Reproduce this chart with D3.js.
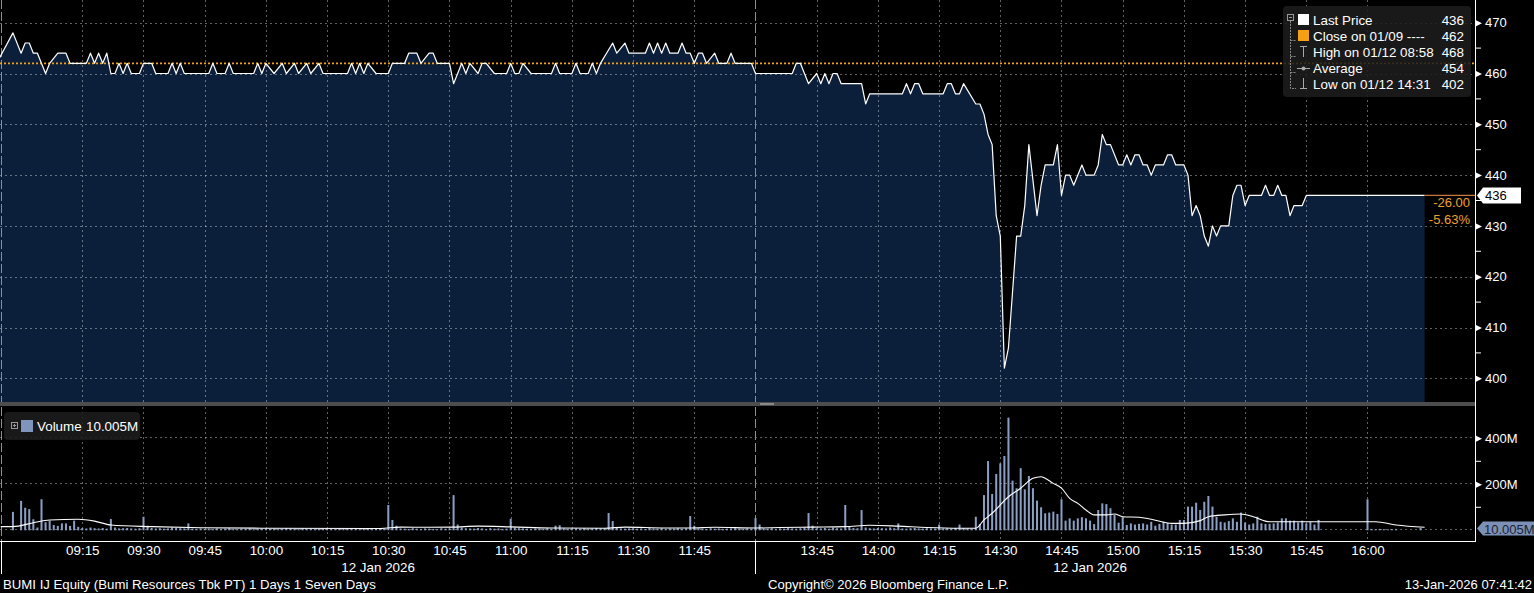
<!DOCTYPE html>
<html><head><meta charset="utf-8">
<script src="https://cdn.jsdelivr.net/npm/d3@7"></script>
<style>html,body{margin:0;padding:0;background:#000;overflow:hidden}svg{display:block}text{font-family:"Liberation Sans",Arial,sans-serif}</style>
</head><body><svg id="c" width="1534" height="593"></svg>
<script>
// ---------------- DATA ----------------
const priceTimes = ["08:54","08:58","09:00","09:01","09:02","09:03","09:04","09:06","09:07","09:09","09:11","09:12","09:16","09:17","09:18","09:19","09:20","09:21","09:22","09:23","09:24","09:25","09:26","09:27","09:29","09:30","09:32","09:33","09:36","09:37","09:38","09:39","09:40","09:46","09:47","09:48","09:50","09:51","09:52","09:57","09:58","09:59","10:00","10:02","10:04","10:05","10:07","10:08","10:10","10:11","10:13","10:14","10:20","10:21","10:22","10:23","10:24","10:25","10:27","10:30","10:31","10:34","10:35","10:37","10:38","10:40","10:41","10:42","10:45","10:46","10:48","10:49","10:50","10:52","10:53","10:54","10:56","10:59","11:00","11:01","11:02","11:03","11:05","11:10","11:11","11:12","11:15","11:16","11:17","11:19","11:20","11:21","11:22","11:25","11:26","11:28","11:29","11:33","11:34","11:35","11:36","11:37","11:38","11:39","11:41","11:42","11:43","11:44","11:45","11:46","11:47","11:48","11:50","11:51","11:53","11:54","11:55","11:59","12:00",
"13:30","13:39","13:40","13:41","13:43","13:45","13:46","13:47","13:48","13:49","13:50","13:51","13:56","13:57","13:58","14:06","14:07","14:08","14:09","14:10","14:11","14:16","14:17","14:18","14:19","14:20","14:21","14:24","14:25","14:26","14:27","14:28","14:29","14:30","14:31","14:32","14:34","14:35","14:36","14:37","14:39","14:40","14:41","14:43","14:44","14:45","14:46","14:47","14:48","14:50","14:51","14:53","14:54","14:55","14:56","14:57","14:59","15:00","15:01","15:02","15:03","15:04","15:05","15:06","15:07","15:08","15:10","15:11","15:12","15:13","15:15","15:16","15:17","15:18","15:19","15:20","15:21","15:22","15:23","15:24","15:26","15:27","15:28","15:29","15:30","15:31","15:34","15:35","15:36","15:37","15:38","15:39","15:40","15:41","15:42","15:44","15:45","16:14"];
const priceValues = [462,468,464,466,466,464,464,460,462,464,464,462,462,464,462,464,462,464,460,460,462,460,462,460,460,462,462,460,460,462,460,462,460,460,462,460,460,462,460,460,462,460,462,460,462,460,462,460,462,460,462,460,460,462,460,462,460,462,460,460,462,462,464,464,462,464,464,462,462,458,462,460,462,460,462,462,460,460,462,460,460,462,460,460,462,460,460,462,460,460,462,460,462,466,464,466,464,464,466,464,466,464,466,464,464,466,464,464,462,464,464,462,464,462,462,464,462,462,460,
460,460,462,462,458,460,458,460,458,460,460,458,458,454,456,456,458,456,458,458,456,456,458,458,456,456,458,454,454,452,448,446,432,428,402,406,428,428,434,446,432,438,442,442,446,436,440,440,438,442,440,440,442,448,446,446,442,442,444,442,444,444,442,442,440,442,442,444,444,442,442,440,432,434,432,428,426,430,428,430,430,436,438,438,434,436,436,438,436,436,438,436,436,432,434,434,436,436];

// volume in millions, one bar per minute; morning from 08:55, afternoon from 13:30
const volMorning = [0,0,0,80,0,
128,98,92,48,12,135,35,42,23,19,30,30,19,42,15,
10,8,12,9,8,10,7,49,12,8,9,10,8,7,9,
59,20,10,8,9,7,8,12,10,9,8,30,7,6,8,
6,7,5,8,6,7,9,6,5,7,6,8,5,6,7,
8,6,7,5,6,9,7,6,5,8,6,7,5,6,8,
7,6,5,8,6,7,9,6,5,7,6,5,8,6,7,
110,45,20,8,7,6,9,7,6,8,7,6,5,9,7,
8,153,25,12,9,8,7,10,8,6,9,7,8,6,7,
50,12,9,8,7,6,8,7,6,9,7,20,22,8,6,
7,8,6,9,7,8,10,8,9,75,40,10,8,7,8,
9,7,8,6,10,8,7,9,6,8,7,9,6,8,62,
20,8,7,6,9,7,8,6,7,8,9,7,6,8,7,6];
const volAfternoon = [
53,25,8,7,9,6,8,7,10,8,7,9,12,75,20,
9,8,10,7,12,9,8,110,15,10,9,88,12,9,8,
10,9,8,12,9,30,8,7,9,10,8,7,9,8,7,
25,8,9,7,10,25,10,8,6,59,27,153,301,158,245,
291,323,490,216,183,270,178,236,183,129,100,74,77,81,71,
135,42,52,42,52,57,52,42,27,88,117,114,96,67,33,
57,23,30,25,28,30,25,37,20,28,37,32,25,25,45,
45,103,103,120,88,124,149,103,59,37,34,40,52,37,77,
34,25,30,59,30,28,28,30,34,52,52,42,42,34,42,
30,37,25,45,0,0,0,0,0,0,0,0,0,0,0,
135,6,5,6,5,4,5,6,0,0,0,0,0,10];

const maTimes = ["08:55","08:58","09:03","09:07","09:14","09:18","09:22","09:32","09:44","10:00","10:28","10:33","10:40","10:46","10:52","11:00","11:10","11:23","11:28","11:38","11:44","11:50","12:00",
"13:30","13:36","13:44","13:52","13:58","14:05","14:12","14:20","14:24","14:26","14:28","14:32","14:35","14:38","14:40","14:41","14:43","14:45","14:47","14:49","14:51","14:53","14:56","14:58","15:00","15:04","15:07","15:12","15:15","15:19","15:21","15:25","15:29","15:32","15:36","15:59","16:02","16:07","16:14"];
const maValues = [16,16,33,45,48,40,23,16,11,9,8,14,13,14,18,15,10,9,14,10,10,13,10,
10,12,14,16,22,18,12,9,9,45,74,146,183,226,233,226,204,183,139,117,88,67,67,71,59,57,48,30,30,42,59,67,71,59,37,37,37,23,13];

const priceTicks = [400,410,420,430,440,450,460,470];
const priceMinor = [405,415,425,435,445,455,465];
const volTicks = [200,400];
const volMinor = [100,300];
const volTickLabels = ["200M","400M"];
const timeTicks = ["09:15","09:30","09:45","10:00","10:15","10:30","10:45","11:00","11:15","11:30","11:45","13:45","14:00","14:15","14:30","14:45","15:00","15:15","15:30","15:45","16:00"];
const sessionBreaks = ["08:55","12:00"];
const closePrev = 462, lastPrice = 436;
const legendRows = [["Last Price","436"],["Close on 01/09 ----","462"],["High on 01/12 08:58","468"],["Average","454"],["Low on 01/12 14:31","402"]];
const dateLabel = "12 Jan 2026";

// ---------------- SCALES ----------------
function ti(t){const p=t.split(':').map(Number);const m=p[0]*60+p[1]+(p[2]||0)/60;return m<=720?m-535:185+(m-810);}
const W=1534,H=593,PR=1475,PB=402,VT=407,VB=541;
const x=d3.scaleLinear().domain([0,361.3]).range([0.7,1474.8]);
const yP=d3.scaleLinear().domain([400,470]).range([378.3,22.7]);
const yV=d3.scaleLinear().domain([0,400]).range([530.3,438.3]);
const sx=d=>Math.round(x(ti(d)))+0.5;

const svg=d3.select('#c');
svg.append('rect').attr('width',W).attr('height',H).attr('fill','#000');
const defs=svg.append('defs');
defs.append('clipPath').attr('id','cp').append('rect').attr('x',0).attr('y',0).attr('width',PR).attr('height',PB);
defs.append('clipPath').attr('id','cv').append('rect').attr('x',0).attr('y',VT).attr('width',PR).attr('height',VB-VT);

const grid='rgba(255,255,255,0.38)';
// ---------------- PRICE PANEL ----------------
const price=priceTimes.map((t,i)=>({t:ti(t),p:priceValues[i]}));
const gP=svg.append('g').attr('clip-path','url(#cp)');
gP.append('path').datum(price).attr('fill','#0b1f3b')
  .attr('d',d3.area().x(d=>x(d.t)).y0(PB).y1(d=>yP(d.p)));
gP.selectAll('.hg').data(priceTicks).join('line').attr('x1',0).attr('x2',PR)
  .attr('y1',d=>Math.round(yP(d))+0.5).attr('y2',d=>Math.round(yP(d))+0.5)
  .attr('stroke',grid).attr('stroke-dasharray','2,3');
gP.selectAll('.vg').data(timeTicks).join('line').attr('y1',0).attr('y2',PB)
  .attr('x1',sx).attr('x2',sx)
  .attr('stroke',grid).attr('stroke-dasharray','2,3');
gP.selectAll('.sb').data(sessionBreaks).join('line').attr('y1',0).attr('y2',PB)
  .attr('x1',sx).attr('x2',sx)
  .attr('stroke','#8a8f98').attr('stroke-dasharray','9,3');
gP.append('line').attr('x1',0).attr('x2',PR).attr('y1',yP(closePrev)).attr('y2',yP(closePrev))
  .attr('stroke','#f0a01c').attr('stroke-width',1.6).attr('stroke-dasharray','2,2');
gP.append('path').datum(price).attr('fill','none').attr('stroke','#fff').attr('stroke-width',1.2)
  .attr('stroke-linejoin','round').attr('d',d3.line().x(d=>x(d.t)).y(d=>yP(d.p)));

// last price extension line & change labels
const lastX=x(ti(priceTimes[priceTimes.length-1]));
svg.append('line').attr('x1',lastX).attr('x2',PR).attr('y1',yP(lastPrice)).attr('y2',yP(lastPrice))
  .attr('stroke','#c8783a').attr('stroke-width',1.2);
svg.append('text').attr('x',1470).attr('y',yP(lastPrice)+12).attr('text-anchor','end')
  .attr('fill','#f0a030').attr('font-size',13).text((lastPrice-closePrev).toFixed(2));
svg.append('text').attr('x',1470).attr('y',yP(lastPrice)+29).attr('text-anchor','end')
  .attr('fill','#f0a030').attr('font-size',13).text(((lastPrice-closePrev)/closePrev*100).toFixed(2)+'%');

// separator bar
svg.append('rect').attr('x',0).attr('y',PB).attr('width',PR).attr('height',4).attr('fill','#4d4d4d');
svg.append('rect').attr('x',760).attr('y',PB+1).attr('width',14).attr('height',2).attr('fill','#888');

// ---------------- VOLUME PANEL ----------------
const vols=[];
volMorning.forEach((v,i)=>vols.push({t:i,v}));
volAfternoon.forEach((v,j)=>vols.push({t:185+j,v}));
const gV=svg.append('g').attr('clip-path','url(#cv)');
gV.selectAll('.hg').data([0].concat(volTicks)).join('line').attr('x1',0).attr('x2',PR)
  .attr('y1',d=>Math.round(yV(d))-0.5).attr('y2',d=>Math.round(yV(d))-0.5)
  .attr('stroke',grid).attr('stroke-dasharray','2,3');
gV.selectAll('.vg').data(timeTicks).join('line').attr('y1',VT).attr('y2',VB)
  .attr('x1',sx).attr('x2',sx)
  .attr('stroke',grid).attr('stroke-dasharray','2,3');
gV.selectAll('.sb').data(sessionBreaks).join('line').attr('y1',VT).attr('y2',VB)
  .attr('x1',sx).attr('x2',sx)
  .attr('stroke','#8a8f98').attr('stroke-dasharray','9,3');
gV.selectAll('.bar').data(vols.filter(d=>d.v>0)).join('rect')
  .attr('x',d=>x(d.t)-1).attr('width',2).attr('y',d=>yV(d.v)).attr('height',d=>yV(0)-yV(d.v))
  .attr('fill','#8b9fc4');
const ma=maTimes.map((t,i)=>({t:ti(t),v:maValues[i]}));
gV.append('path').datum(ma).attr('fill','none').attr('stroke','#fff').attr('stroke-width',1.1)
  .attr('d',d3.line().curve(d3.curveMonotoneX).x(d=>x(d.t)).y(d=>yV(d.v)));

// ---------------- AXES ----------------
svg.append('line').attr('x1',PR+0.5).attr('x2',PR+0.5).attr('y1',0).attr('y2',VB+0.5).attr('stroke','#fff');
svg.append('line').attr('x1',0).attr('x2',PR+1).attr('y1',VB+0.5).attr('y2',VB+0.5).attr('stroke','#fff');
// right price axis
const ayP=svg.append('g').attr('transform',`translate(${PR+1},0)`)
  .call(d3.axisRight(yP).tickValues(priceTicks).tickSize(0).tickPadding(9));
ayP.select('.domain').remove();
ayP.selectAll('text').attr('fill','#fff').attr('font-size',13).attr('font-family','Liberation Sans, Arial');
ayP.selectAll('.tick').append('path').attr('d','M0,-3L6,0L0,3Z').attr('fill','#fff');
svg.selectAll('.pmin').data(priceMinor).join('line').attr('x1',PR+1).attr('x2',PR+6)
  .attr('y1',d=>yP(d)).attr('y2',d=>yP(d)).attr('stroke','#fff');
// right volume axis
const ayV=svg.append('g').attr('transform',`translate(${PR+1},0)`)
  .call(d3.axisRight(yV).tickValues(volTicks).tickFormat((d,i)=>volTickLabels[i]).tickSize(0).tickPadding(9));
ayV.select('.domain').remove();
ayV.selectAll('text').attr('fill','#fff').attr('font-size',13).attr('font-family','Liberation Sans, Arial');
ayV.selectAll('.tick').append('path').attr('d','M0,-3L6,0L0,3Z').attr('fill','#fff');
svg.selectAll('.vmin').data(volMinor).join('line').attr('x1',PR+1).attr('x2',PR+6)
  .attr('y1',d=>yV(d)).attr('y2',d=>yV(d)).attr('stroke','#fff');

// last price tag
const ly=yP(lastPrice);
svg.append('path').attr('d',`M${PR+2},${ly}L${PR+8},${ly-8}L1521,${ly-8}L1521,${ly+8}L${PR+8},${ly+8}Z`).attr('fill','#fff');
svg.append('text').attr('x',1485).attr('y',ly+5).attr('fill','#000').attr('font-size',13).text(String(lastPrice));
// last volume tag
const lastVol = volAfternoon[volAfternoon.length-1];
const vy=yV(lastVol)+0.5;
svg.append('path').attr('d',`M${PR+2},${vy}L${PR+8},${vy-7}L1534,${vy-7}L1534,${vy+7}L${PR+8},${vy+7}Z`).attr('fill','#7d91b6');
svg.append('text').attr('x',1484).attr('y',vy+5).attr('fill','#1a2235').attr('font-size',13).text('10.005M');

// bottom time axis
const ax=svg.append('g').attr('transform',`translate(0,${VB+1})`)
  .call(d3.axisBottom(x).tickValues(timeTicks.map(ti)).tickFormat((d,i)=>timeTicks[i]).tickSize(0).tickPadding(3));
ax.select('.domain').remove();
ax.selectAll('text').attr('fill','#fff').attr('font-size',13.4).attr('font-family','Liberation Sans, Arial');
svg.selectAll('.sbx').data(sessionBreaks).join('line').attr('y1',VB).attr('y2',574)
  .attr('x1',sx).attr('x2',sx).attr('stroke','#fff');
svg.append('text').attr('x',(x(ti("08:55"))+x(ti("12:00")))/2).attr('y',572).attr('text-anchor','middle')
  .attr('fill','#fff').attr('font-size',13.4).text(dateLabel);
svg.append('text').attr('x',(x(ti("13:30"))+lastX)/2).attr('y',572).attr('text-anchor','middle')
  .attr('fill','#fff').attr('font-size',13.4).text(dateLabel);

// footer
svg.append('text').attr('x',3).attr('y',589).attr('fill','#fff').attr('font-size',13.2).text('BUMI IJ Equity (Bumi Resources Tbk PT) 1 Days 1 Seven Days');
svg.append('text').attr('x',768).attr('y',589).attr('fill','#fff').attr('font-size',13.1).text('Copyright\u00A9 2026 Bloomberg Finance L.P.');
svg.append('text').attr('x',1532).attr('y',589).attr('text-anchor','end').attr('fill','#fff').attr('font-size',13).text('13-Jan-2026 07:41:42');

// ---------------- LEGENDS ----------------
const lg=svg.append('g');
lg.append('rect').attr('x',1283).attr('y',6).attr('width',188).attr('height',91).attr('rx',4).attr('fill','rgba(28,28,28,0.88)');
lg.append('rect').attr('x',1287.5).attr('y',14.5).attr('width',6).attr('height',6).attr('fill','none').attr('stroke','#999');
lg.append('line').attr('x1',1289).attr('x2',1292).attr('y1',17.5).attr('y2',17.5).attr('stroke','#999');
lg.append('path').attr('d','M1290.5,21V88.5H1296M1290.5,40.5H1296M1290.5,56.5H1296M1290.5,72.5H1296').attr('fill','none').attr('stroke','#888').attr('stroke-dasharray','2,1');
lg.append('rect').attr('x',1298).attr('y',14).attr('width',11).attr('height',11).attr('fill','#fff');
lg.append('rect').attr('x',1298).attr('y',30).attr('width',11).attr('height',11).attr('fill','#f5a014');
lg.append('path').attr('d','M1300,46.5H1307M1303.5,46.5V57').attr('stroke','#aaa').attr('fill','none');
lg.append('path').attr('d','M1297,68.5H1310').attr('stroke','#aaa');
lg.append('circle').attr('cx',1303.5).attr('cy',68.5).attr('r',2).attr('fill','#aaa');
lg.append('path').attr('d','M1303.5,78V88.5M1300,88.5H1307').attr('stroke','#aaa').attr('fill','none');
legendRows.forEach((r,i)=>{
  lg.append('text').attr('x',1313).attr('y',25+i*16).attr('fill','#fff').attr('font-size',13.4).text(r[0]);
  lg.append('text').attr('x',1464).attr('y',25+i*16).attr('text-anchor','end').attr('fill','#fff').attr('font-size',13.4).text(r[1]);
});
const vl=svg.append('g');
vl.append('rect').attr('x',4).attr('y',412).attr('width',136).attr('height',28).attr('rx',4).attr('fill','rgba(28,28,28,0.88)');
vl.append('rect').attr('x',11.5).attr('y',422.5).attr('width',6).attr('height',6).attr('fill','none').attr('stroke','#999');
vl.append('path').attr('d','M13,425.5H16M14.5,424V427').attr('stroke','#999');
vl.append('rect').attr('x',21).attr('y',420).attr('width',12).attr('height',12).attr('fill','#7f95bd');
vl.append('text').attr('x',37).attr('y',431).attr('fill','#fff').attr('font-size',13.4).text('Volume');
vl.append('text').attr('x',86).attr('y',431).attr('fill','#fff').attr('font-size',13.4).text('10.005M');
</script></body></html>
